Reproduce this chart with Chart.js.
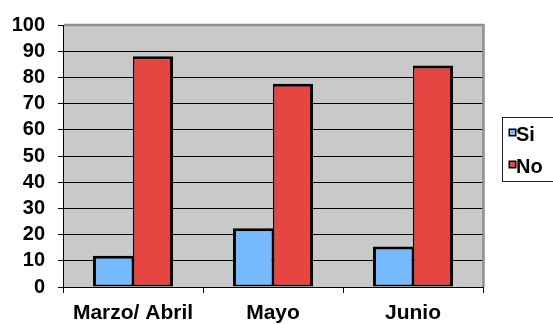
<!DOCTYPE html>
<html>
<head>
<meta charset="utf-8">
<script src="https://cdn.jsdelivr.net/npm/chart.js@4/dist/chart.umd.min.js"></script>
<style>
html,body{margin:0;padding:0;background:#fff;}
canvas{display:block;}
</style>
</head>
<body>
<canvas id="c" width="553" height="324"></canvas>
<script>
const categories = ['Marzo/ Abril', 'Mayo', 'Junio'];
const siValues = [11.9, 22.4, 15.5];
const noValues = [88.1, 77.6, 84.5];
const seriesNames = ['Si', 'No'];
const seriesColors = ['#77b9ff', '#e74542'];
const yMin = 0, yMax = 100, yStep = 10;

const FONT = '"Liberation Sans", Arial, sans-serif';

const plotDecor = {
  id: 'plotDecor',
  beforeDraw(chart) {
    const {ctx, chartArea: a} = chart;
    ctx.save();
    ctx.fillStyle = '#c9c9c9';
    ctx.fillRect(a.left, a.top, a.right - a.left, a.bottom - a.top);
    ctx.restore();
  },
  beforeDatasetsDraw(chart) {
    const {ctx, chartArea: a} = chart;
    ctx.save();
    ctx.strokeStyle = '#8f8f8f';
    ctx.lineWidth = 2.5;
    ctx.beginPath();
    ctx.moveTo(a.left + 1, a.top);
    ctx.lineTo(a.right + 0.5, a.top);
    ctx.lineTo(a.right + 0.5, a.bottom);
    ctx.stroke();
    ctx.restore();
  },
  afterDraw(chart) {
    const ctx = chart.ctx;
    ctx.save();
    ctx.strokeStyle = '#222';
    ctx.lineWidth = 1;
    ctx.strokeRect(502.5, 117.5, 80, 64);
    ctx.font = 'bold 20px ' + FONT;
    ctx.textBaseline = 'alphabetic';
    ctx.textAlign = 'left';
    chart.data.datasets.forEach((ds, i) => {
      const y = 129 + i * 32;
      ctx.fillStyle = ds.backgroundColor;
      ctx.fillRect(509, y, 7, 7);
      ctx.strokeStyle = '#000';
      ctx.lineWidth = 1.5;
      ctx.strokeRect(509.25, y + 0.25, 6.5, 6.5);
      ctx.fillStyle = '#000';
      ctx.fillText(ds.label, 516, y + 12);
    });
    ctx.restore();
  }
};

new Chart(document.getElementById('c'), {
  type: 'bar',
  data: {
    labels: categories,
    datasets: [
      {
        label: seriesNames[0],
        data: siValues,
        backgroundColor: seriesColors[0],
        borderColor: '#000',
        borderWidth: {top: 3, left: 3, right: 1.5, bottom: 2},
        borderSkipped: false,
        categoryPercentage: 0.572,
        barPercentage: 1
      },
      {
        label: seriesNames[1],
        data: noValues,
        backgroundColor: seriesColors[1],
        borderColor: '#000',
        borderWidth: {top: 3, left: 1.5, right: 3, bottom: 2},
        borderSkipped: false,
        categoryPercentage: 0.572,
        barPercentage: 1
      }
    ]
  },
  options: {
    responsive: false,
    devicePixelRatio: 1,
    animation: false,
    layout: {padding: {top: 18, right: 70, left: 0, bottom: 0}},
    plugins: {legend: {display: false}, tooltip: {enabled: false}},
    scales: {
      x: {
        offset: true,
        grid: {offset: true, drawOnChartArea: false, drawTicks: true, tickLength: 6, color: '#000', lineWidth: 1},
        border: {display: true, color: '#000', width: 1},
        ticks: {color: '#000', font: {family: FONT, size: 21, weight: 'bold'}, padding: 8, maxRotation: 0, autoSkip: false},
        afterFit(scale) { scale.height = 37; }
      },
      y: {
        min: yMin, max: yMax,
        ticks: {stepSize: yStep, autoSkip: false, color: '#000', font: {family: FONT, size: 20, weight: 'bold'}, padding: 13},
        grid: {color: '#000', lineWidth: 1, tickLength: 5},
        border: {display: true, color: '#000', width: 1},
        afterFit(scale) { scale.width = 63; }
      }
    }
  },
  plugins: [plotDecor]
});
</script>
</body>
</html>
